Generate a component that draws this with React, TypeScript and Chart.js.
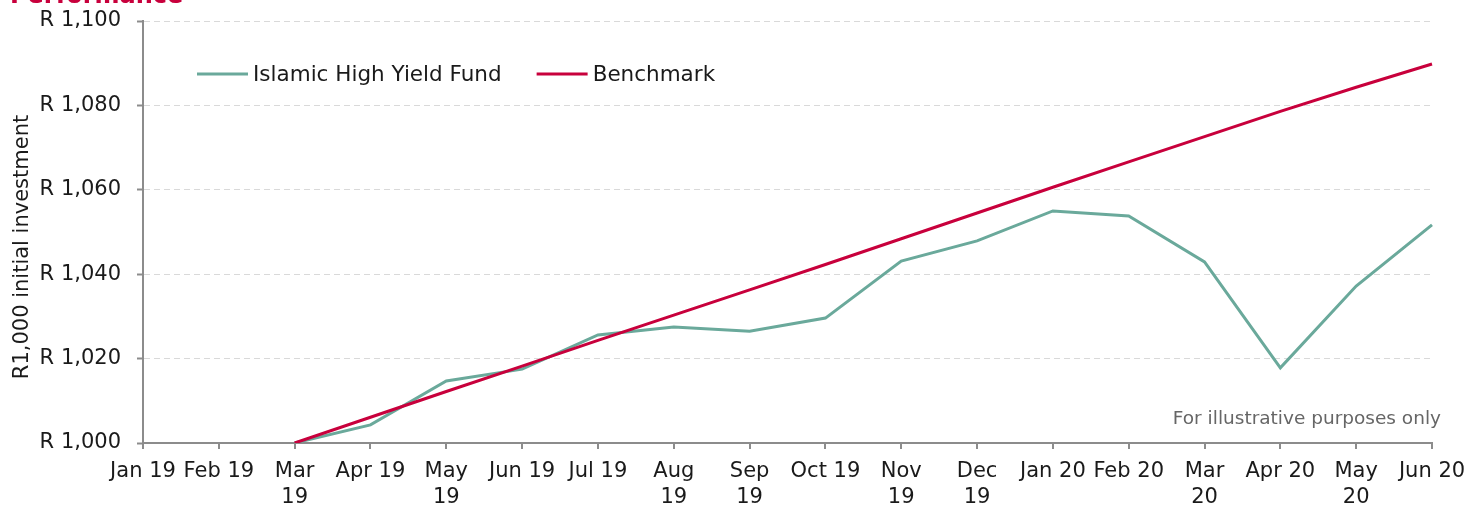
import React, { useEffect, useRef } from "react";
import { Chart, registerables } from "chart.js";

Chart.register(...registerables);

const months: (string | string[])[] = [
  "Jan 19", "Feb 19", ["Mar", "19"], "Apr 19", ["May", "19"], "Jun 19", "Jul 19",
  ["Aug", "19"], ["Sep", "19"], "Oct 19", ["Nov", "19"], ["Dec", "19"], "Jan 20",
  "Feb 20", ["Mar", "20"], "Apr 20", ["May", "20"], "Jun 20",
];

const fundValues: (number | null)[] = [
  null, null, 1000, 1004.3, 1014.7, 1017.5, 1025.6, 1027.5, 1026.5, 1029.6,
  1043.1, 1047.9, 1055.0, 1053.8, 1042.9, 1017.8, 1037.2, 1051.7,
];

const benchmarkValues: (number | null)[] = [
  null, null, 1000, 1006.1, 1012.2, 1018.2, 1024.3, 1030.3, 1036.3, 1042.3,
  1048.4, 1054.5, 1060.6, 1066.6, 1072.6, 1078.6, 1084.3, 1089.8,
];

const yTicks = { min: 1000, max: 1100, step: 20 };

const FONT = "'DejaVu Sans', Verdana, sans-serif";
const TEAL = "#6aa99b";
const RED = "#c8003c";

const overlayPlugin = {
  id: "overlay",
  afterDraw(chart: any) {
    const ctx = chart.ctx as CanvasRenderingContext2D;
    ctx.save();
    // cut-off title
    ctx.fillStyle = RED;
    ctx.font = `bold 24px ${FONT}`;
    ctx.textBaseline = "alphabetic";
    ctx.textAlign = "left";
    ctx.fillText("Performance", 10, 3);

    // y axis title
    ctx.save();
    ctx.translate(23, 247);
    ctx.rotate(-Math.PI / 2);
    ctx.fillStyle = "#1a1a1a";
    ctx.font = `21px ${FONT}`;
    ctx.textAlign = "center";
    ctx.textBaseline = "middle";
    ctx.fillText("R1,000 initial investment", 0, 0);
    ctx.restore();

    // legend
    ctx.font = `21.5px ${FONT}`;
    ctx.textBaseline = "middle";
    ctx.textAlign = "left";
    let x = 197;
    const y = 74;
    chart.data.datasets.forEach((ds: any) => {
      ctx.strokeStyle = ds.borderColor;
      ctx.lineWidth = 3;
      ctx.beginPath();
      ctx.moveTo(x, y);
      ctx.lineTo(x + 51, y);
      ctx.stroke();
      ctx.fillStyle = "#1a1a1a";
      ctx.fillText(ds.label, x + 56, y + 1);
      x = x + 56 + ctx.measureText(ds.label).width + 35;
    });

    // note
    ctx.fillStyle = "#666666";
    ctx.font = `18.5px ${FONT}`;
    ctx.textAlign = "right";
    ctx.textBaseline = "middle";
    ctx.fillText("For illustrative purposes only", 1441, 419);
    ctx.restore();
  },
};

export default function App() {
  const ref = useRef<HTMLCanvasElement>(null);
  useEffect(() => {
    if (!ref.current) return;
    const chart = new Chart(ref.current, {
      type: "line",
      data: {
        labels: months,
        datasets: [
          {
            label: "Islamic High Yield Fund",
            data: fundValues,
            borderColor: TEAL,
            backgroundColor: TEAL,
            borderWidth: 3,
            pointRadius: 0,
            tension: 0,
            order: 1,
          },
          {
            label: "Benchmark",
            data: benchmarkValues,
            borderColor: RED,
            backgroundColor: RED,
            borderWidth: 3,
            pointRadius: 0,
            tension: 0,
            order: 0,
          },
        ],
      },
      plugins: [overlayPlugin],
      options: {
        animation: false,
        responsive: false,
        maintainAspectRatio: false,
        layout: { padding: { top: 21, right: 38, left: 0, bottom: 0 } },
        plugins: { legend: { display: false }, tooltip: { enabled: false }, title: { display: false } },
        scales: {
          x: {
            offset: false,
            afterFit: (s: any) => {
              s.height = 62;
              s.paddingLeft = 0;
              s.paddingRight = 0;
              s.paddingTop = 0;
              s.paddingBottom = 0;
            },
            grid: { display: true, drawOnChartArea: false, drawTicks: true, tickLength: 6, color: "#8c8c8c", lineWidth: 2 },
            border: { display: true, color: "#8c8c8c", width: 2 },
            ticks: {
              color: "#1a1a1a",
              font: { family: FONT, size: 21, lineHeight: 1.25 },
              maxRotation: 0,
              autoSkip: false,
              padding: 9,
            },
          },
          y: {
            min: yTicks.min,
            max: yTicks.max,
            afterFit: (s: any) => {
              s.width = 143;
              s.paddingLeft = 0;
              s.paddingRight = 0;
              s.paddingTop = 0;
              s.paddingBottom = 0;
            },
            grid: { color: "#d9d9d9", lineWidth: 1, tickLength: 6, tickColor: "#8c8c8c", tickWidth: 2, tickBorderDash: [] },
            border: { display: true, color: "#8c8c8c", width: 2, dash: [6, 4] },
            ticks: {
              stepSize: yTicks.step,
              color: "#1a1a1a",
              font: { family: FONT, size: 21 },
              padding: 16,
              callback: (v: any) => "R " + Number(v).toLocaleString("en-US"),
            },
          },
        },
      },
    });
    return () => chart.destroy();
  }, []);
  return (
    <div style={{ position: "absolute", left: 0, top: 0, width: 1470, height: 505 }}>
      <canvas ref={ref} width={1470} height={505} style={{ width: 1470, height: 505 }} />
    </div>
  );
}
